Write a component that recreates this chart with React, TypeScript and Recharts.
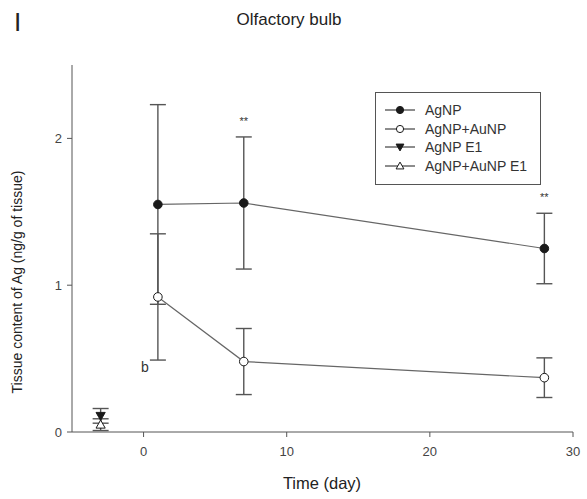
import React from 'react';
import {
  ComposedChart,
  Line,
  XAxis,
  YAxis,
  ErrorBar,
  ReferenceDot,
} from 'recharts';

// days after exposure
const agnpDays = [1, 7, 28];
const agnpMean = [1.55, 1.56, 1.25];
const agnpSd = [0.68, 0.45, 0.24];

const auDays = [1, 7, 28];
const auMean = [0.92, 0.48, 0.37];
const auSd = [0.43, 0.225, 0.135];

const e1Days = [-3];
const agE1Mean = [0.11];
const agE1Sd = [0.05];
const auE1Mean = [0.05];
const auE1Sd = [0.04];

const xTicks = [0, 10, 20, 30];
const yTicks = [0, 1, 2];

const seriesNames = ['AgNP', 'AgNP+AuNP', 'AgNP E1', 'AgNP+AuNP E1'];
const seriesShapes = ['circle', 'circleOpen', 'triDown', 'triUpOpen'];

// significance marks: [day, y, text]
const marks: [number, number, string][] = [
  [7, 2.12, '**'],
  [28, 1.6, '**'],
];
const letterMarks: [number, number, string][] = [[0.1, 0.44, 'b']];

const toRows = (days: number[], mean: number[], sd: number[]) =>
  days.map((d, i) => ({ day: d, value: mean[i], err: sd[i] }));

const seriesData = [
  toRows(agnpDays, agnpMean, agnpSd),
  toRows(auDays, auMean, auSd),
  toRows(e1Days, agE1Mean, agE1Sd),
  toRows(e1Days, auE1Mean, auE1Sd),
];

const INK = '#1a1a1a';
const GREY = '#555';
const FONT = '"Liberation Sans", Arial, sans-serif';

const Marker = ({ cx, cy, kind, size = 4.3 }: any) => {
  if (cx == null || cy == null) return null;
  const open = kind === 'circleOpen' || kind === 'triUpOpen';
  const fill = open ? '#fff' : INK;
  if (kind === 'circle' || kind === 'circleOpen') {
    return <circle cx={cx} cy={cy} r={size} fill={fill} stroke={INK} strokeWidth={1} />;
  }
  const s = size + 0.3;
  const pts =
    kind === 'triDown'
      ? `${cx - s},${cy - s * 0.75} ${cx + s},${cy - s * 0.75} ${cx},${cy + s}`
      : `${cx - s},${cy + s * 0.75} ${cx + s},${cy + s * 0.75} ${cx},${cy - s}`;
  return <polygon points={pts} fill={fill} stroke={INK} strokeWidth={1} />;
};

const LegendBox = () => (
  <div
    style={{
      position: 'absolute',
      left: 375,
      top: 92,
      border: `1px solid ${GREY}`,
      background: '#fff',
      width: 164,
      padding: '8px 0 9px 0',
      fontFamily: FONT,
      fontSize: 14,
      color: '#333',
    }}
  >
    {seriesNames.map((name, i) => (
      <div key={name} style={{ display: 'flex', alignItems: 'center', height: 18.5 }}>
        <svg width={50} height={14} style={{ marginLeft: 9 }}>
          <line x1={0} x2={30} y1={7} y2={7} stroke={INK} strokeWidth={1} />
          <Marker cx={15} cy={7} kind={seriesShapes[i]} size={3.6} />
        </svg>
        <span style={{ marginLeft: -10 }}>{name}</span>
      </div>
    ))}
  </div>
);

const markLabel = (text: string) => (props: any) => {
  const vb = props.viewBox || {};
  const x = (vb.x ?? 0) + (vb.width ?? 0) / 2;
  const y = (vb.y ?? 0) + (vb.height ?? 0) / 2;
  return (
    <text
      x={x}
      y={y}
      dy="0.35em"
      textAnchor="middle"
      fill="#333"
      fontSize={text === 'b' ? 14 : 11}
      fontFamily={FONT}
    >
      {text}
    </text>
  );
};

export default function App() {
  return (
    <div
      style={{
        position: 'absolute',
        left: 0,
        top: 0,
        width: 587,
        height: 499,
        background: '#fff',
        fontFamily: FONT,
      }}
    >
      <div style={{ position: 'absolute', left: 14, top: 8, fontSize: 26, color: '#222', lineHeight: '28px' }}>
        I
      </div>
      <div
        style={{
          position: 'absolute',
          left: 189,
          width: 200,
          top: 11,
          textAlign: 'center',
          fontSize: 17,
          color: '#222',
          lineHeight: '18px',
        }}
      >
        Olfactory bulb
      </div>
      <div
        style={{
          position: 'absolute',
          left: 17 - 150,
          top: 282 - 9,
          width: 300,
          textAlign: 'center',
          fontSize: 14,
          lineHeight: '18px',
          color: '#222',
          transform: 'rotate(-90deg)',
        }}
      >
        Tissue content of Ag (ng/g of tissue)
      </div>
      <div
        style={{
          position: 'absolute',
          left: 222,
          width: 200,
          top: 473,
          textAlign: 'center',
          fontSize: 16.5,
          lineHeight: '20px',
          color: '#222',
        }}
      >
        Time (day)
      </div>
      <ComposedChart
        width={587}
        height={499}
        margin={{ top: 65, right: 14, bottom: 0, left: 0 }}
        style={{ position: 'absolute', left: 0, top: 0, fontFamily: FONT }}
      >
        <XAxis
          type="number"
          dataKey="day"
          domain={[-5, 30]}
          ticks={xTicks}
          allowDataOverflow
          height={67}
          tickSize={5}
          tickMargin={10}
          stroke={GREY}
          tick={{ fill: '#444', fontSize: 13, fontFamily: FONT }}
        />
        <YAxis
          type="number"
          domain={[0, 2.5]}
          ticks={yTicks}
          allowDataOverflow
          width={72}
          tickSize={5}
          tickMargin={5}
          stroke={GREY}
          tick={{ fill: '#444', fontSize: 13, fontFamily: FONT }}
        />
        {seriesData.map((rows, i) => (
          <Line
            key={seriesNames[i]}
            name={seriesNames[i]}
            data={rows}
            dataKey="value"
            stroke="#666"
            strokeWidth={1.2}
            isAnimationActive={false}
            dot={(p: any) => <Marker key={`${i}-${p.index}`} cx={p.cx} cy={p.cy} kind={seriesShapes[i]} />}
            activeDot={false}
          >
            <ErrorBar dataKey="err" width={8} stroke={GREY} strokeWidth={1.4} direction="y" />
          </Line>
        ))}
        {[...marks, ...letterMarks].map(([d, v, t], i) => (
          <ReferenceDot
            key={`m${i}`}
            x={d}
            y={v}
            r={0}
            stroke="none"
            label={markLabel(t)}
          />
        ))}
      </ComposedChart>
      <LegendBox />
    </div>
  );
}
